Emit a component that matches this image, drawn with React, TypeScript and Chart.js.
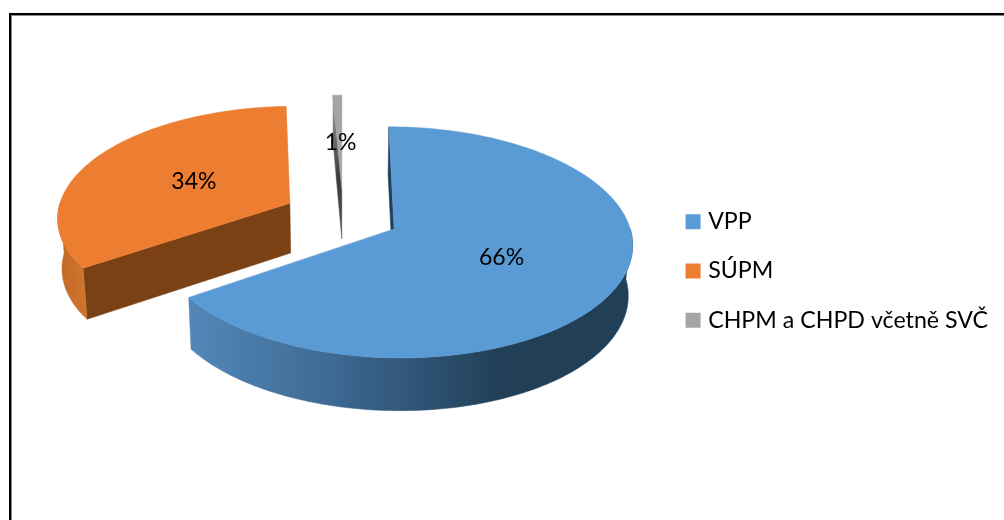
import React, { useEffect, useRef } from "react";
import { Chart, registerables } from "chart.js";

Chart.register(...registerables);

const categories = ["VPP", "SÚPM", "CHPM a CHPD včetně SVČ"];
const shares = [65.5, 33.8, 0.7];
const sliceColors = ["#5b9bd5", "#ed7d31", "#a5a5a5"];

const FONT = "Lato";
// Perspective view of the flat pie plane
const VIEW = { cx: 343, cy: 216, b: 233, a: 111, p: 0.115, depth: 50, pinch: 0.015 };

type P = [number, number];

function project(wx: number, wy: number, down: boolean): P {
  const den = 1 - VIEW.p * wy;
  let X = VIEW.cx + (VIEW.b * wx) / den;
  let Y = VIEW.cy + (VIEW.a * wy) / den;
  if (down) {
    X = VIEW.cx + (X - VIEW.cx) * (1 - VIEW.pinch);
    Y += VIEW.depth * (1 + 0.05 * wy);
  }
  return [X, Y];
}

function poly(ctx: CanvasRenderingContext2D, pts: P[], fill: string | CanvasGradient) {
  ctx.beginPath();
  pts.forEach((p, i) => (i ? ctx.lineTo(p[0], p[1]) : ctx.moveTo(p[0], p[1])));
  ctx.closePath();
  ctx.fillStyle = fill;
  ctx.fill();
  ctx.strokeStyle = fill;
  ctx.lineWidth = 0.5;
  ctx.stroke();
}

const pie3d = {
  id: "pie3d",
  beforeDatasetsDraw(chart: any) {
    const ctx: CanvasRenderingContext2D = chart.ctx;
    const arcs = chart.getDatasetMeta(0).data;
    const total = shares.reduce((s, v) => s + v, 0);

    const geo = arcs.map((el: any) => {
      const R = el.outerRadius;
      const a0 = el.startAngle + Math.PI / 2;
      const a1 = el.endAngle + Math.PI / 2;
      const mid = (a0 + a1) / 2;
      const d = el.options.offset / R;
      const ox = Math.sin(mid) * d;
      const oy = -Math.cos(mid) * d;
      return { a0, a1, mid, ox, oy };
    });

    const rimPt = (g: any, a: number, down: boolean) =>
      project(g.ox + Math.sin(a), g.oy - Math.cos(a), down);
    const arcPts = (g: any, from: number, to: number, down: boolean) => {
      const n = Math.max(2, Math.ceil(Math.abs(to - from) / 0.02));
      const out: P[] = [];
      for (let i = 0; i <= n; i++) out.push(rimPt(g, from + ((to - from) * i) / n, down));
      return out;
    };
    const hg = (x0: number, x1: number, stops: [number, string][]) => {
      const g = ctx.createLinearGradient(x0, 0, x1, 0);
      stops.forEach(([o, c]) => g.addColorStop(o, c));
      return g;
    };
    const vg = (y0: number, y1: number, stops: [number, string][]) => {
      const g = ctx.createLinearGradient(0, y0, 0, y1);
      stops.forEach(([o, c]) => g.addColorStop(o, c));
      return g;
    };

    const rimFill = [
      hg(190, 500, [[0, "#5287b8"], [0.45, "#3e6a94"], [1, "#223f58"]]),
      hg(60, 90, [[0, "#c46a28"], [1, "#d17630"]]),
      "#777777",
    ];
    const radialFill = [
      "#223f58",
      "#7a4114",
      vg(95, 235, [[0, "#a5a5a5"], [0.25, "#777777"], [0.6, "#3a3a3a"], [1, "#555555"]]),
    ];

    // Painted back to front
    [2, 1, 0].forEach((i) => {
      const g = geo[i];
      const apexT = project(g.ox, g.oy, false);
      const apexB = project(g.ox, g.oy, true);

      // Radial wall on the slice's leading edge, when it faces the viewer
      if (Math.sin(g.a0) <= 1e-6) {
        poly(ctx, [apexT, rimPt(g, g.a0, false), rimPt(g, g.a0, true), apexB], radialFill[i]);
      }
      // Outer wall: only the part of the rim that faces the viewer
      const from = Math.max(g.a0, Math.PI / 2);
      const to = Math.min(g.a1, (3 * Math.PI) / 2);
      if (to > from) {
        poly(ctx, [...arcPts(g, from, to, false), ...arcPts(g, to, from, true)], rimFill[i]);
      }
      // Top face
      poly(ctx, [apexT, ...arcPts(g, g.a0, g.a1, false)], sliceColors[i]);
    });

    // Percentage labels
    ctx.font = `23px ${FONT}`;
    ctx.textAlign = "center";
    ctx.textBaseline = "middle";
    geo.forEach((g: any, i: number) => {
      const [x, y] = project(g.ox + Math.sin(g.mid) * 0.49, g.oy - Math.cos(g.mid) * 0.49, false);
      ctx.fillStyle = "#000000";
      ctx.fillText(`${Math.round((shares[i] / total) * 100)}%`, x + 1, y + 1.5);
    });
    return false;
  },
};

export default function App() {
  const ref = useRef<HTMLCanvasElement>(null);
  useEffect(() => {
    document.body.style.margin = "0";
    document.body.style.background = "#ffffff";
    const chart = new Chart(ref.current!, {
      type: "pie",
      data: {
        labels: categories,
        datasets: [{ data: shares, backgroundColor: sliceColors, borderWidth: 0, offset: [54, 57, 54] }],
      },
      options: {
        responsive: false,
        animation: false,
        events: [],
        layout: { padding: { top: 22, right: 6 } },
        plugins: {
          tooltip: { enabled: false },
          legend: {
            position: "right",
            labels: {
              boxWidth: 7,
              boxHeight: 7,
              padding: 26,
              color: "#000000",
              font: { family: FONT, size: 23.2 },
              generateLabels: (c: any) =>
                (Chart as any).overrides.pie.plugins.legend.labels.generateLabels(c).map((item: any) => ({
                  ...item,
                  strokeStyle: item.fillStyle,
                  lineWidth: 8,
                  lineJoin: "miter",
                })),
            },
          },
        },
      },
      plugins: [pie3d],
    });
    return () => chart.destroy();
  }, []);
  return (
    <div style={{ position: "relative", width: 1004, height: 520, overflow: "hidden" }}>
      <canvas ref={ref} width={1004} height={520} style={{ position: "absolute", left: 0, top: 0 }} />
      <div
        style={{
          position: "absolute",
          left: 9,
          top: 13,
          width: 1100,
          height: 600,
          borderLeft: "2px solid #000",
          borderTop: "2px solid #000",
          boxShadow: "-0.5px -0.5px 0.5px #888, inset 1px 1px 0.5px #888",
        }}
      />
    </div>
  );
}
